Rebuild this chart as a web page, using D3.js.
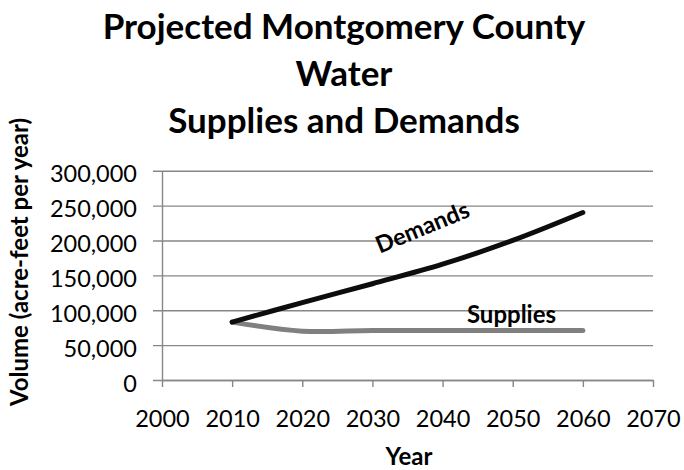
<!DOCTYPE html>
<html>
<head>
<meta charset="utf-8">
<script src="https://cdn.jsdelivr.net/npm/d3@7"></script>
<style>
  html, body { margin: 0; padding: 0; background: #fff; }
  svg { display: block; }
  text { font-family: Lato, "Open Sans", sans-serif; fill: #000; }
</style>
</head>
<body>
<div id="chart"></div>
<script>
(function () {
// ---- data ----
const titleLines = ["Projected Montgomery County", "Water", "Supplies and Demands"];
const years = [2010, 2020, 2030, 2040, 2050, 2060];
const demands = [83000, 111000, 138000, 166000, 200000, 240000];
const supplies = [83000, 70000, 71000, 71000, 71000, 71000];
const xTicks = [2000, 2010, 2020, 2030, 2040, 2050, 2060, 2070];
const yTicks = [0, 50000, 100000, 150000, 200000, 250000, 300000];
const xTitle = "Year";
const yTitle = "Volume (acre-feet per year)";
const seriesNames = ["Demands", "Supplies"];

// ---- layout ----
const W = 684, H = 470;
const mLeft = 162, mRight = 653, mTop = 170.7, mBottom = 380;
const gridColor = "#878787";

const svg = d3.select("#chart").append("svg").attr("width", W).attr("height", H);

const x = d3.scaleLinear().domain([2000, 2070]).range([mLeft, mRight]);
const y = d3.scaleLinear().domain([0, 300000]).range([mBottom, mTop]);

// title
svg.append("g").selectAll("text").data(titleLines).join("text")
  .attr("x", 344)
  .attr("y", (d, i) => 39 + i * 47)
  .attr("text-anchor", "middle")
  .style("font-size", "35px")
  .style("font-weight", "bold")
  .text(d => d);

// y axis with gridlines
const fmt = d3.format(",");
const yAxis = d3.axisLeft(y).tickValues(yTicks).tickFormat(fmt).tickSizeOuter(0);
const gy = svg.append("g").attr("transform", `translate(${mLeft},0)`).call(yAxis);
gy.select(".domain").attr("stroke", gridColor).attr("stroke-width", 1.4);
gy.selectAll(".tick line")
  .attr("x1", -9).attr("x2", mRight - mLeft)
  .attr("stroke", gridColor).attr("stroke-width", 1.4);
gy.selectAll(".tick text")
  .attr("x", -25).attr("dy", null).attr("y", 11)
  .attr("text-anchor", "end")
  .style("font-size", "23.5px")
  .style("font-family", "Lato, sans-serif")
  .attr("fill", "#000");

// x axis
const xAxis = d3.axisBottom(x).tickValues(xTicks).tickFormat(d3.format("d")).tickSize(7).tickSizeOuter(0);
const gx = svg.append("g").attr("transform", `translate(0,${mBottom})`).call(xAxis);
gx.select(".domain").attr("stroke", gridColor).attr("stroke-width", 1.4);
gx.selectAll(".tick line").attr("stroke", gridColor).attr("stroke-width", 1.4);
gx.selectAll(".tick text")
  .attr("dy", null).attr("y", 46.5)
  .style("font-size", "23.5px")
  .style("font-family", "Lato, sans-serif")
  .attr("fill", "#000");

// axis titles
svg.append("text")
  .attr("x", 409).attr("y", 465)
  .attr("text-anchor", "middle")
  .style("font-size", "24px").style("font-weight", "bold")
  .text(xTitle);

svg.append("text")
  .attr("transform", "translate(28,262) rotate(-90)")
  .attr("text-anchor", "middle")
  .style("font-size", "24px").style("font-weight", "bold")
  .text(yTitle);

// lines
const line = d3.line().x(d => x(d[0])).y(d => y(d[1])).curve(d3.curveCardinal.tension(0));
const supplyPts = years.map((yr, i) => [yr, supplies[i]]);
const demandPts = years.map((yr, i) => [yr, demands[i]]);

svg.append("path").datum(supplyPts)
  .attr("d", line).attr("fill", "none")
  .attr("stroke", "#808080").attr("stroke-width", 5)
  .attr("stroke-linecap", "round").attr("stroke-linejoin", "round");

svg.append("path").datum(demandPts)
  .attr("d", line).attr("fill", "none")
  .attr("stroke", "#0d0d0d").attr("stroke-width", 5)
  .attr("stroke-linecap", "round").attr("stroke-linejoin", "round");

// series labels
svg.append("text")
  .attr("transform", "translate(425.5,235) rotate(-22.4)")
  .attr("text-anchor", "middle")
  .style("font-size", "23.5px").style("font-weight", "bold")
  .text(seriesNames[0]);

svg.append("text")
  .attr("x", 511.5).attr("y", 323.3)
  .attr("text-anchor", "middle")
  .style("font-size", "24px").style("font-weight", "bold")
  .text(seriesNames[1]);
})();
</script>
</body>
</html>
